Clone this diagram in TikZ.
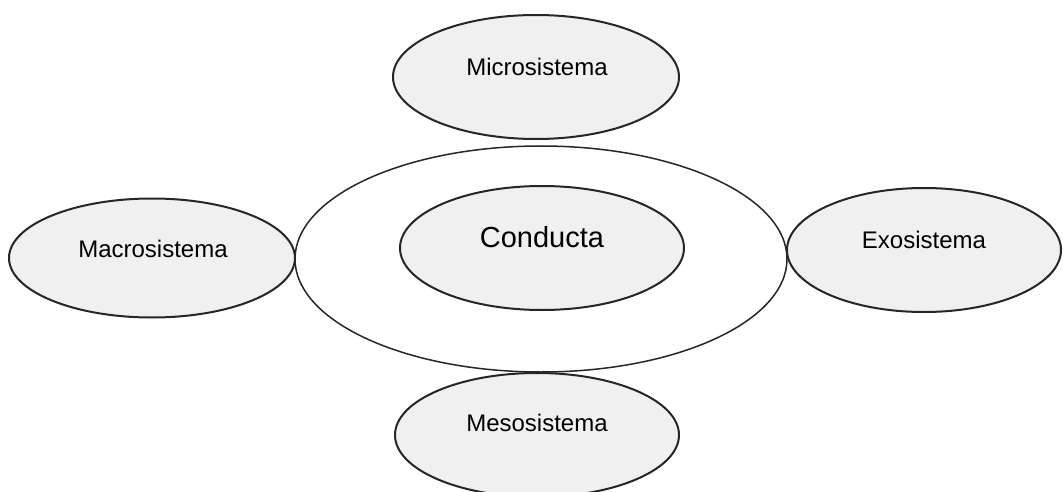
\documentclass[tikz,border=0pt]{standalone}
\usepackage{fontspec}
\setmainfont{Liberation Sans}
\usetikzlibrary{shapes.geometric}
\definecolor{ellfill}{HTML}{F0F0F0}
\tikzset{
  sysell/.style={ellipse, draw=black!85, line width=2pt, fill=ellfill, inner sep=0pt},
  bigell/.style={ellipse, draw=black!85, line width=1.5pt, fill=white, inner sep=0pt},
  smalltxt/.style={inner sep=0pt, font=\fontsize{24}{28}\selectfont},
  bigtxt/.style={inner sep=0pt, font=\fontsize{29}{34}\selectfont}
}
\begin{document}
\begin{tikzpicture}[x=1pt,y=-1pt]
\useasboundingbox (0,0) rectangle (1063,492);
\clip (0,0) rectangle (1063,492);
\fill[white] (0,0) rectangle (1063,492);
\node[bigell, minimum width=492pt, minimum height=226pt] (outer) at (541,259) {};
\node[sysell, minimum width=284pt, minimum height=124pt] (conducta) at (542,248) {};
\node[bigtxt] (conductatxt) at (542,237) {Conducta};
\node[sysell, minimum width=286pt, minimum height=124pt] (micro) at (536,77) {};
\node[smalltxt] (microtxt) at (537,67) {Microsistema};
\node[sysell, minimum width=286pt, minimum height=119pt] (macro) at (152,258) {};
\node[smalltxt] (macrotxt) at (153,249) {Macrosistema};
\node[sysell, minimum width=274pt, minimum height=124pt] (exo) at (924,250) {};
\node[smalltxt] (exotxt) at (924,240) {Exosistema};
\node[sysell, minimum width=284pt, minimum height=124pt] (meso) at (537,435) {};
\node[smalltxt] (mesotxt) at (537,423) {Mesosistema};
\end{tikzpicture}
\end{document}
